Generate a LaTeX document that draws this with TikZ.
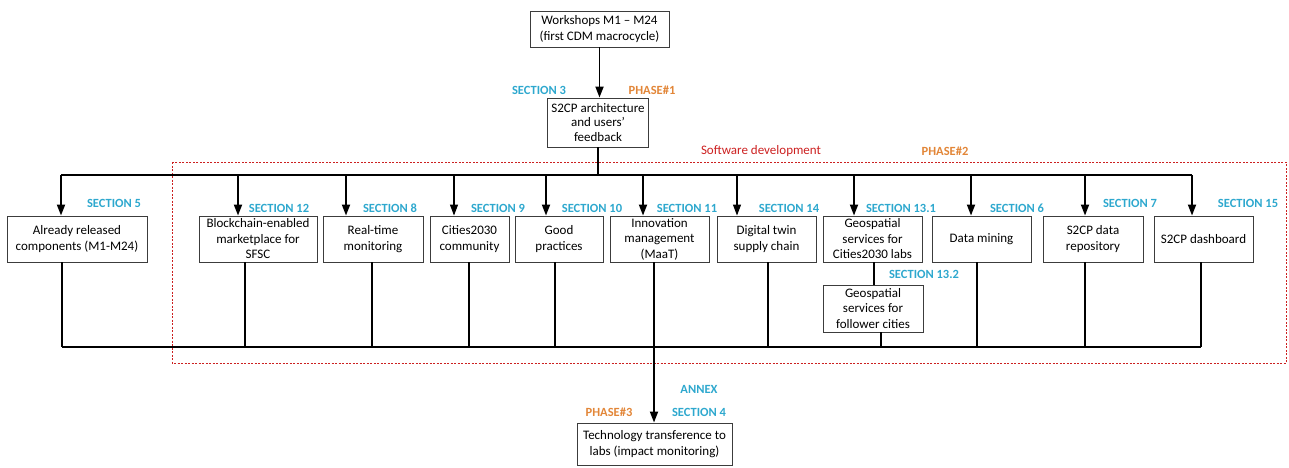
\documentclass[tikz,border=0pt]{standalone}
\usepackage{fontspec}
\setmainfont{Carlito}
\usetikzlibrary{arrows.meta}
\definecolor{seccol}{RGB}{46,168,206}
\definecolor{phasecol}{RGB}{226,134,56}
\definecolor{devred}{RGB}{204,32,32}
\definecolor{boxline}{RGB}{60,60,60}
\begin{document}
\begin{tikzpicture}[x=1pt,y=-1pt,
  box/.style={draw=boxline, line width=0.9pt, align=center, inner sep=1pt,
    font=\fontsize{13}{15.5}\selectfont},
  sec/.style={text=seccol, font=\bfseries\fontsize{12.5}{14}\selectfont, inner sep=0pt},
  phase/.style={text=phasecol, font=\bfseries\fontsize{12.5}{14}\selectfont, inner sep=0pt},
  arr/.style={line width=1.8pt, -{Triangle[length=11pt,width=8pt]}},
  thinarr/.style={line width=1.1pt, -{Triangle[length=11pt,width=8pt]}},
  stem/.style={line width=1.5pt},
]
\useasboundingbox (0,0) rectangle (1289,467);

% software development frame
\draw[devred, line width=1pt, dash pattern=on 2pt off 1.5pt] (172,162) rectangle (1286,363);
\node[text=devred, font=\fontsize{13}{15}\selectfont, inner sep=0pt] (swdev) at (761,151) {Software development};
\node[phase] (ph2) at (945,151) {PHASE\#2};

% top of the chain
\node[box, minimum width=139pt, minimum height=36pt] (work) at (599.5,29)
  {Workshops M1 -- M24\\(first CDM macrocycle)};
\node[box, minimum width=101pt, minimum height=49pt, font=\fontsize{13}{14.5}\selectfont] (arch) at (598,122.5)
  {S2CP architecture\\and users'\\feedback};
\draw[arr] (work.south) -- (work.south |- arch.north);
\node[sec] (s3) at (539,90) {SECTION 3};
\node[phase] (ph1) at (652,90) {PHASE\#1};

% component boxes
\node[box, minimum width=140pt, minimum height=46pt] (rel) at (77,239)
  {Already released\\components (M1-M24)};
\node[box, minimum width=118pt, minimum height=46pt] (chain) at (258,239)
  {Blockchain-enabled\\marketplace for\\SFSC};
\node[box, minimum width=100pt, minimum height=46pt] (rt) at (373,239)
  {Real-time\\monitoring};
\node[box, minimum width=79pt, minimum height=46pt] (cities) at (469.5,239)
  {Cities2030\\community};
\node[box, minimum width=88pt, minimum height=46pt] (good) at (559,239)
  {Good\\practices};
\node[box, minimum width=99pt, minimum height=46pt] (innov) at (659.5,239)
  {Innovation\\management\\(MaaT)};
\node[box, minimum width=99pt, minimum height=46pt] (twin) at (766.5,239)
  {Digital twin\\supply chain};
\node[box, minimum width=99pt, minimum height=46pt] (geoA) at (872.5,239)
  {Geospatial\\services for\\Cities2030 labs};
\node[box, minimum width=100pt, minimum height=47pt] (geoB) at (873,308.5)
  {Geospatial\\services for\\follower cities};
\node[box, minimum width=99pt, minimum height=46pt] (mine) at (981.5,239)
  {Data mining};
\node[box, minimum width=100pt, minimum height=46pt] (repo) at (1093,239)
  {S2CP data\\repository};
\node[box, minimum width=99pt, minimum height=46pt] (dash) at (1203.5,239)
  {S2CP dashboard};

% section labels
\node[sec] (s5) at (114,203) {SECTION 5};
\node[sec] (s12) at (279,208) {SECTION 12};
\node[sec] (s8) at (390,208) {SECTION 8};
\node[sec] (s9) at (498,208) {SECTION 9};
\node[sec] (s10) at (592,208) {SECTION 10};
\node[sec] (s11) at (687,208) {SECTION 11};
\node[sec] (s14) at (789,208) {SECTION 14};
\node[sec] (s131) at (901,208) {SECTION 13.1};
\node[sec] (s132) at (924,274) {SECTION 13.2};
\node[sec] (s6) at (1017,208) {SECTION 6};
\node[sec] (s7) at (1130,203) {SECTION 7};
\node[sec] (s15) at (1248,203) {SECTION 15};

% distribution line
\coordinate (dL) at (61,175);
\coordinate (dR) at (1192,175);
\draw[stem] (dL) -- (dR);
\draw[stem] (arch.south) -- (arch.south |- dL);

\coordinate (a5) at (61,175);
\coordinate (a12) at (238,175);
\coordinate (a8) at (346,175);
\coordinate (a9) at (454,175);
\coordinate (a10) at (546,175);
\coordinate (a11) at (643,175);
\coordinate (a14) at (737,175);
\coordinate (a131) at (854,175);
\coordinate (a6) at (971,175);
\coordinate (a7) at (1085,175);
\coordinate (a15) at (1192,175);
\draw[arr] (a5) -- (a5 |- rel.north);
\draw[arr] (a12) -- (a12 |- chain.north);
\draw[arr] (a8) -- (a8 |- rt.north);
\draw[thinarr] (a9) -- (a9 |- cities.north);
\draw[arr] (a10) -- (a10 |- good.north);
\draw[arr] (a11) -- (a11 |- innov.north);
\draw[thinarr] (a14) -- (a14 |- twin.north);
\draw[arr] (a131) -- (a131 |- geoA.north);
\draw[arr] (a6) -- (a6 |- mine.north);
\draw[arr] (a7) -- (a7 |- repo.north);
\draw[arr] (a15) -- (a15 |- dash.north);

% geospatial link
\coordinate (g) at (874,285);
\draw[line width=1.1pt] (g |- geoA.south) -- (g |- geoB.north);

% collecting bus
\coordinate (bL) at (62,347);
\coordinate (bR) at (1201,347);
\draw[stem] (bL) -- (bR);
\coordinate (b5) at (62,347);
\coordinate (b12) at (245,347);
\coordinate (b8) at (372,347);
\coordinate (b9) at (469,347);
\coordinate (b10) at (555,347);
\coordinate (b14) at (768,347);
\coordinate (b13) at (881,347);
\coordinate (b6) at (977,347);
\coordinate (b7) at (1085,347);
\coordinate (b15) at (1201,347);
\draw[stem] (b5 |- rel.south) -- (b5);
\draw[stem] (b12 |- chain.south) -- (b12);
\draw[stem] (b8 |- rt.south) -- (b8);
\draw[stem] (b9 |- cities.south) -- (b9);
\draw[stem] (b10 |- good.south) -- (b10);
\draw[stem] (b14 |- twin.south) -- (b14);
\draw[stem] (b13 |- geoB.south) -- (b13);
\draw[stem] (b6 |- mine.south) -- (b6);
\draw[stem] (b7 |- repo.south) -- (b7);
\draw[stem] (b15 |- dash.south) -- (b15);

% transfer to labs
\node[box, minimum width=155pt, minimum height=42pt] (final) at (654.5,444)
  {Technology transference to\\labs (impact monitoring)};
\coordinate (t) at (654,300);
\draw[arr] (t |- innov.south) -- (t |- final.north);
\node[sec] (annex) at (699,389) {ANNEX};
\node[sec] (s4) at (699,412) {SECTION 4};
\node[phase] (ph3) at (609,412) {PHASE\#3};
\end{tikzpicture}
\end{document}
